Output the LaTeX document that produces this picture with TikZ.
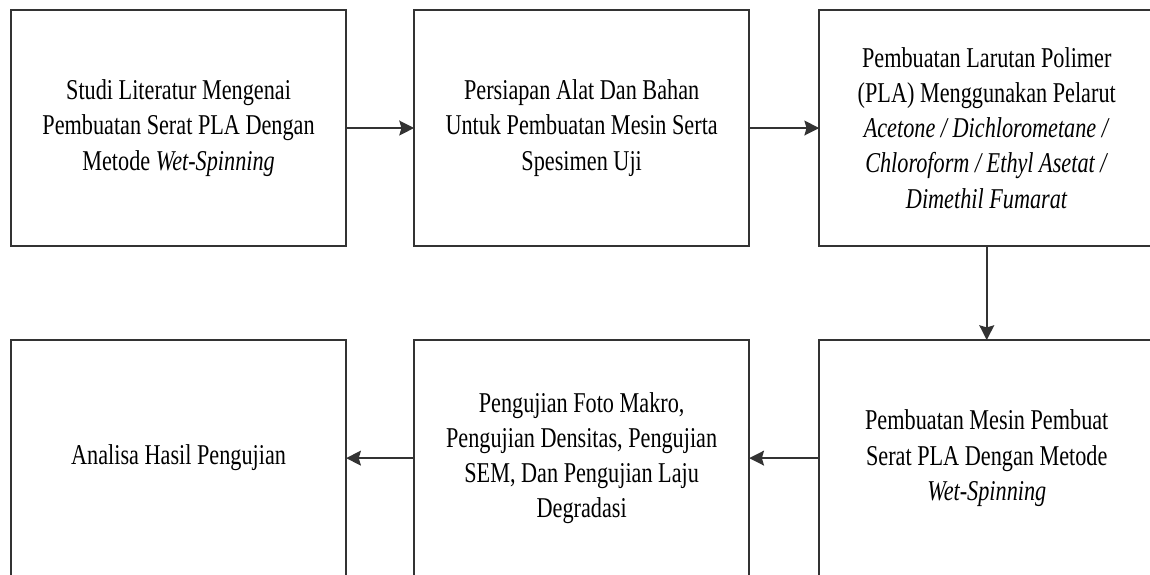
\documentclass[tikz,border=0pt]{standalone}
\usepackage{fontspec}
\setmainfont{Liberation Serif}[FakeStretch=0.775]
\usetikzlibrary{arrows.meta,positioning}
\newcommand\colorBoxline{black!80}

\tikzset{
	stepbox/.style={draw=\colorBoxline, line width=1.5pt, minimum width=8.375cm, minimum height=5.9cm,
		align=center, inner sep=0pt, outer sep=0pt, font=\fontsize{20.4}{25}\selectfont},
	flow/.style={draw=\colorBoxline, line width=1.5pt, -{Stealth[length=10.5pt,width=10.5pt,inset=1.5pt]}}
}

\begin{document}
\begin{tikzpicture}[x=0.025cm, y=0.025cm]
		\useasboundingbox (0,0) rectangle (1150,-574);
		\clip (0,0) rectangle (1150,-574);
	
		% top row
		\node[stepbox, anchor=north west] (studi) at (11,-10) {Studi Literatur Mengenai\\Pembuatan Serat PLA Dengan\\Metode \textit{Wet-Spinning}};
		\node[stepbox, right=1.7cm of studi] (persiapan) {Persiapan Alat Dan Bahan\\Untuk Pembuatan Mesin Serta\\Spesimen Uji};
		\node[stepbox, right=1.75cm of persiapan] (larutan) {Pembuatan Larutan Polimer\\(PLA) Menggunakan Pelarut\\\textit{Acetone / Dichlorometane /}\\\textit{Chloroform / Ethyl Asetat /}\\\textit{Dimethil Fumarat}};
	
		% bottom row
		\node[stepbox, below=2.35cm of larutan] (mesin) {Pembuatan Mesin Pembuat\\Serat PLA Dengan Metode\\\textit{Wet-Spinning}};
		\node[stepbox, left=1.75cm of mesin] (pengujian) {Pengujian Foto Makro,\\Pengujian Densitas, Pengujian\\SEM, Dan Pengujian Laju\\Degradasi};
		\node[stepbox, left=1.7cm of pengujian] (analisa) {Analisa Hasil Pengujian};
	
		\draw[flow] (studi) -- (persiapan);
		\draw[flow] (persiapan) -- (larutan);
		\draw[flow] (larutan) -- (mesin);
		\draw[flow] (mesin) -- (pengujian);
		\draw[flow] (pengujian) -- (analisa);
	\end{tikzpicture}
\end{document}
